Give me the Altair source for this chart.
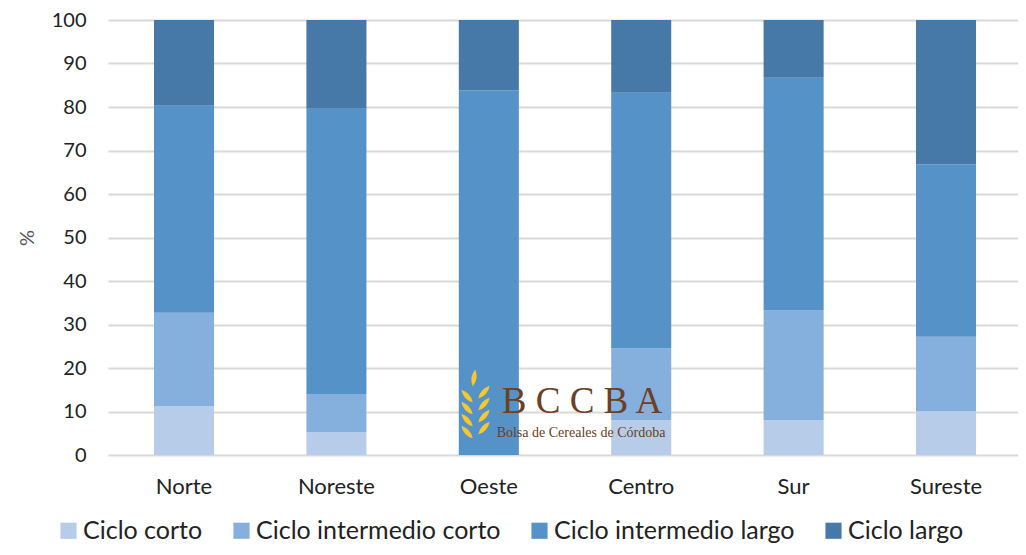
import altair as alt
import pandas as pd

regions = ["Norte", "Noreste", "Oeste", "Centro", "Sur", "Sureste"]
series = ["Ciclo corto", "Ciclo intermedio corto", "Ciclo intermedio largo", "Ciclo largo"]
colors = ["#B7CCE8", "#85AFDC", "#5592C8", "#4678A8"]

corto = [11.2, 5.3, 0.0, 8.0, 8.0, 10.1]
int_corto = [21.5, 8.7, 0.0, 16.5, 25.2, 17.1]
int_largo = [47.6, 65.6, 83.8, 58.8, 53.5, 39.6]
largo = [19.7, 20.4, 16.2, 16.7, 13.3, 33.2]

values = [corto, int_corto, int_largo, largo]
rows = []
for si, s in enumerate(series):
    for ri, r in enumerate(regions):
        rows.append({"region": r, "serie": s, "valor": values[si][ri], "orden": si})
df = pd.DataFrame(rows)

FONT = "Lato"

bars = alt.Chart(df).mark_bar().encode(
    x=alt.X("region:N", sort=regions, title=None,
            scale=alt.Scale(paddingInner=0.606, paddingOuter=0.2886, align=0.523),
            axis=alt.Axis(labelAngle=0, labelFontSize=22, labelColor="#222222",
                          labelFont=FONT, ticks=False, domain=False, labelPadding=21)),
    y=alt.Y("valor:Q", stack="zero", title="%",
            scale=alt.Scale(domain=[0, 100], nice=False),
            axis=alt.Axis(values=list(range(0, 101, 10)), labelFontSize=20,
                          labelColor="#222222", labelFont=FONT, ticks=False,
                          domain=False, labelPadding=22, gridColor="#D9D9D9",
                          gridWidth=2, titleFontSize=20, titleFont=FONT,
                          titleFontWeight="normal", titleColor="#595959",
                          titlePadding=14)),
    color=alt.Color("serie:N", sort=series,
                    scale=alt.Scale(domain=series, range=colors),
                    legend=alt.Legend(title=None, orient="none", direction="horizontal",
                                      legendX=-52, legendY=498, padding=0, symbolType="square",
                                      symbolSize=260, labelFontSize=25, labelFont=FONT,
                                      labelColor="#222222", columnPadding=26, labelLimit=0,
                                      labelOffset=2, symbolStrokeWidth=0)),
    order=alt.Order("orden:Q"),
)

# watermark (logo)
leaf_x = [366, 359, 359, 359, 359, 376, 376, 376, 376]
leaf_y = [358, 376, 388, 400, 412, 372, 384, 396, 408]
leaf_a = [8, 318, 318, 318, 318, 42, 42, 42, 42]
leaves = alt.Chart(pd.DataFrame({"lx": leaf_x, "ly": leaf_y, "la": leaf_a})).mark_point(
    shape="M0,-1 Q0.6,0 0,1 Q-0.6,0 0,-1 Z", filled=True, color="#F9C62C",
    opacity=1, size=290, strokeWidth=0
).encode(
    x=alt.X("lx:Q", scale=None, axis=None),
    y=alt.Y("ly:Q", scale=None, axis=None),
    angle=alt.Angle("la:Q", scale=None),
)

wm1 = alt.Chart(pd.DataFrame({"t": ["B C C B A"]})).mark_text(
    font="Liberation Serif", fontSize=37, color="#6B4023", align="center", baseline="middle"
).encode(x=alt.value(474), y=alt.value(382), text="t:N")

wm2 = alt.Chart(pd.DataFrame({"t": ["Bolsa de Cereales de Córdoba"]})).mark_text(
    font="Liberation Serif", fontSize=14, color="#6B4023", align="center", baseline="middle"
).encode(x=alt.value(473), y=alt.value(413), text="t:N")

chart = alt.layer(bars, leaves, wm1, wm2).resolve_scale(x="independent", y="independent").properties(
    width=910, height=435,
    autosize=alt.AutoSizeParams(type="none"),
    padding={"left": 100, "top": 12, "right": 0, "bottom": 92},
).configure_view(stroke=None).configure_axisX(grid=False)

chart.save("out.html", embed_options={"renderer": "svg", "actions": False})
